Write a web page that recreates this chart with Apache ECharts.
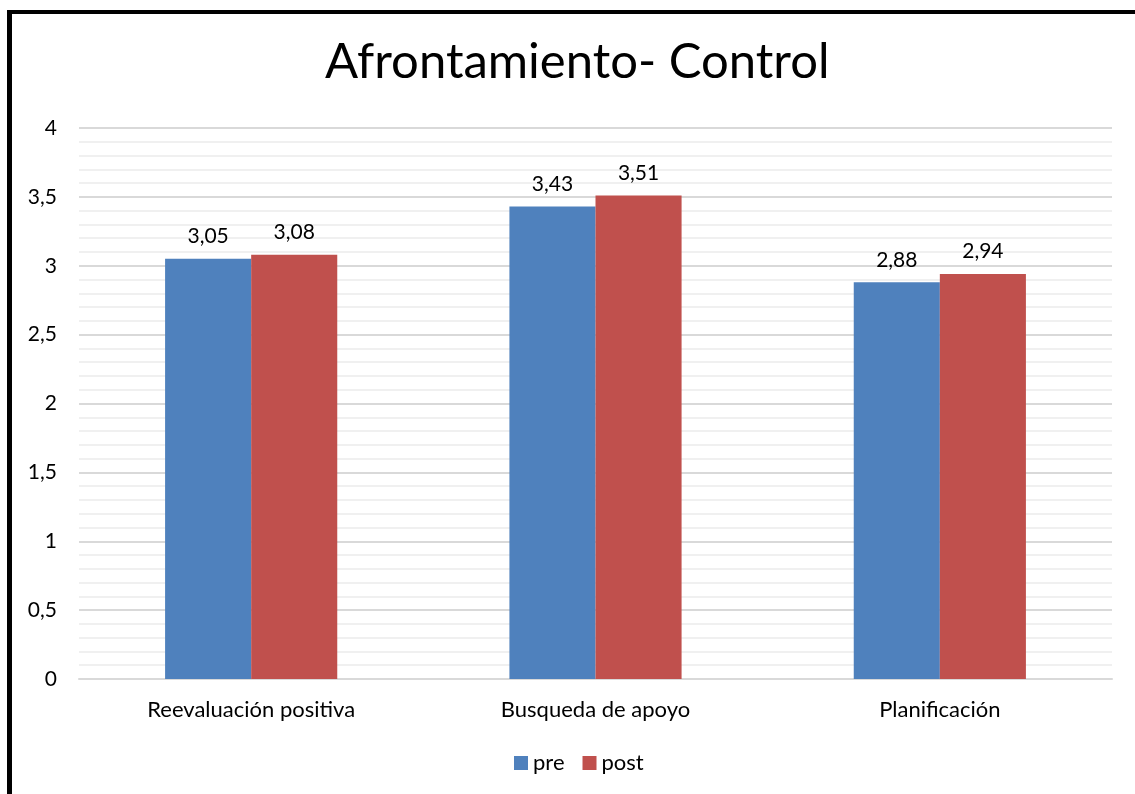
<!DOCTYPE html>
<html>
<head>
<meta charset="utf-8">
<script src="https://cdn.jsdelivr.net/npm/echarts@6/dist/echarts.min.js"></script>
<style>
  html, body { margin: 0; padding: 0; background: #fff; }
  #chart { width: 1135px; height: 794px; }
</style>
</head>
<body>
<div id="chart"></div>
<script>
// Coping scores of the control group, before and after
const categories = ['Reevaluación positiva', 'Busqueda de apoyo', 'Planificación'];
const preValues = [3.05, 3.43, 2.88];
const postValues = [3.08, 3.51, 2.94];
const seriesNames = ['pre', 'post'];

const FONT = 'Lato, "Open Sans", sans-serif';
const fmt = v => String(v).replace('.', ',');

const chart = echarts.init(document.getElementById('chart'), null, { renderer: 'canvas' });

chart.setOption({
  backgroundColor: '#ffffff',
  animation: false,
  title: {
    text: 'Afrontamiento- Control',
    left: 320,
    top: 33,
    textStyle: { fontFamily: FONT, fontSize: 49, fontWeight: 'normal', color: '#000' }
  },
  legend: {
    data: seriesNames,
    bottom: 15,
    left: 509,
    itemWidth: 14,
    itemHeight: 14,
    itemGap: 18,
    icon: 'rect',
    textStyle: { fontFamily: FONT, fontSize: 22, color: '#000', padding: [0, 0, 0, 0] }
  },
  grid: { left: 79, right: 23, top: 128, bottom: 115 },
  xAxis: {
    type: 'category',
    data: categories,
    axisLine: { show: true, lineStyle: { color: '#d9d9d9', width: 2 } },
    axisTick: { show: false },
    axisLabel: { fontFamily: FONT, fontSize: 22, color: '#000', margin: 20 }
  },
  yAxis: {
    type: 'value',
    min: 0,
    max: 4,
    interval: 0.5,
    axisLine: { show: false },
    axisTick: { show: false },
    axisLabel: { fontFamily: FONT, fontSize: 21, color: '#000', margin: 22, formatter: fmt },
    splitLine: { show: true, lineStyle: { color: '#d9d9d9', width: 2 } },
    minorTick: { show: false, splitNumber: 5 },
    minorSplitLine: { show: true, lineStyle: { color: '#f0f0f0', width: 2 } }
  },
  series: [
    {
      name: seriesNames[0],
      type: 'bar',
      data: preValues,
      barGap: '0%',
      barCategoryGap: '50%',
      itemStyle: { color: '#4F81BD' },
      label: { show: true, position: 'top', distance: 12, fontFamily: FONT, fontSize: 21, color: '#000', formatter: p => fmt(p.value) }
    },
    {
      name: seriesNames[1],
      type: 'bar',
      data: postValues,
      itemStyle: { color: '#C0504D' },
      label: { show: true, position: 'top', distance: 12, fontFamily: FONT, fontSize: 21, color: '#000', formatter: p => fmt(p.value) }
    }
  ],
  graphic: [
    // frame edges along the top and left
    { type: 'rect', shape: { x: 7, y: 10, width: 1128, height: 4 }, style: { fill: '#000' }, z: 100 },
    { type: 'rect', shape: { x: 7, y: 10, width: 5, height: 784 }, style: { fill: '#000' }, z: 100 }
  ]
});
</script>
</body>
</html>
